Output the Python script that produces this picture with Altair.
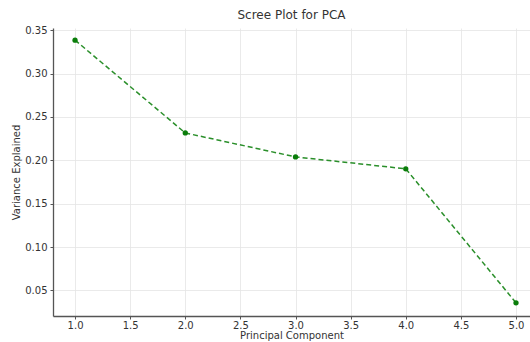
import altair as alt
import pandas as pd

components = [1, 2, 3, 4, 5]
variance = [0.3385, 0.2315, 0.2039, 0.1902, 0.0357]

df = pd.DataFrame({"pc": components, "var": variance})

x_ticks = [1.0, 1.5, 2.0, 2.5, 3.0, 3.5, 4.0, 4.5, 5.0]
y_ticks = [0.05, 0.10, 0.15, 0.20, 0.25, 0.30, 0.35]

x = alt.X("pc:Q", title="Principal Component",
          scale=alt.Scale(domain=[0.8, 5.127], nice=False, zero=False),
          axis=alt.Axis(values=x_ticks, format=".1f"))
y = alt.Y("var:Q", title="Variance Explained",
          scale=alt.Scale(domain=[0.0205, 0.3525], nice=False, zero=False),
          axis=alt.Axis(values=y_ticks, format=".2f"))

line = alt.Chart(df).mark_line(color="#2a8f2a", strokeDash=[5, 3], strokeWidth=1.5).encode(x=x, y=y)
pts = alt.Chart(df).mark_point(filled=True, color="#0a7d0a", size=28, opacity=1).encode(x=x, y=y)

chart = (line + pts).properties(
    width=477, height=288,
    autosize=alt.AutoSizeParams(type="none"),
    padding={"left": 53, "top": 28, "right": 0, "bottom": 26},
    title=alt.TitleParams("Scree Plot for PCA", fontSize=12, font="DejaVu Sans",
                          fontWeight="normal", color="#333333", offset=3, anchor="middle"),
).configure_view(stroke=None).configure_axis(
    labelFont="DejaVu Sans", titleFont="DejaVu Sans", labelFontSize=10, titleFontSize=10,
    titleFontWeight="normal", labelColor="#333333", titleColor="#333333",
    domainColor="#555555", domainWidth=1.3, tickColor="#555555", tickSize=3,
    gridColor="#e4e4e4", gridWidth=0.8,
).configure_axisX(labelPadding=1, titlePadding=0).configure_axisY(labelPadding=3, titlePadding=3)

chart.save("out.html", embed_options={"renderer": "svg", "actions": False})
